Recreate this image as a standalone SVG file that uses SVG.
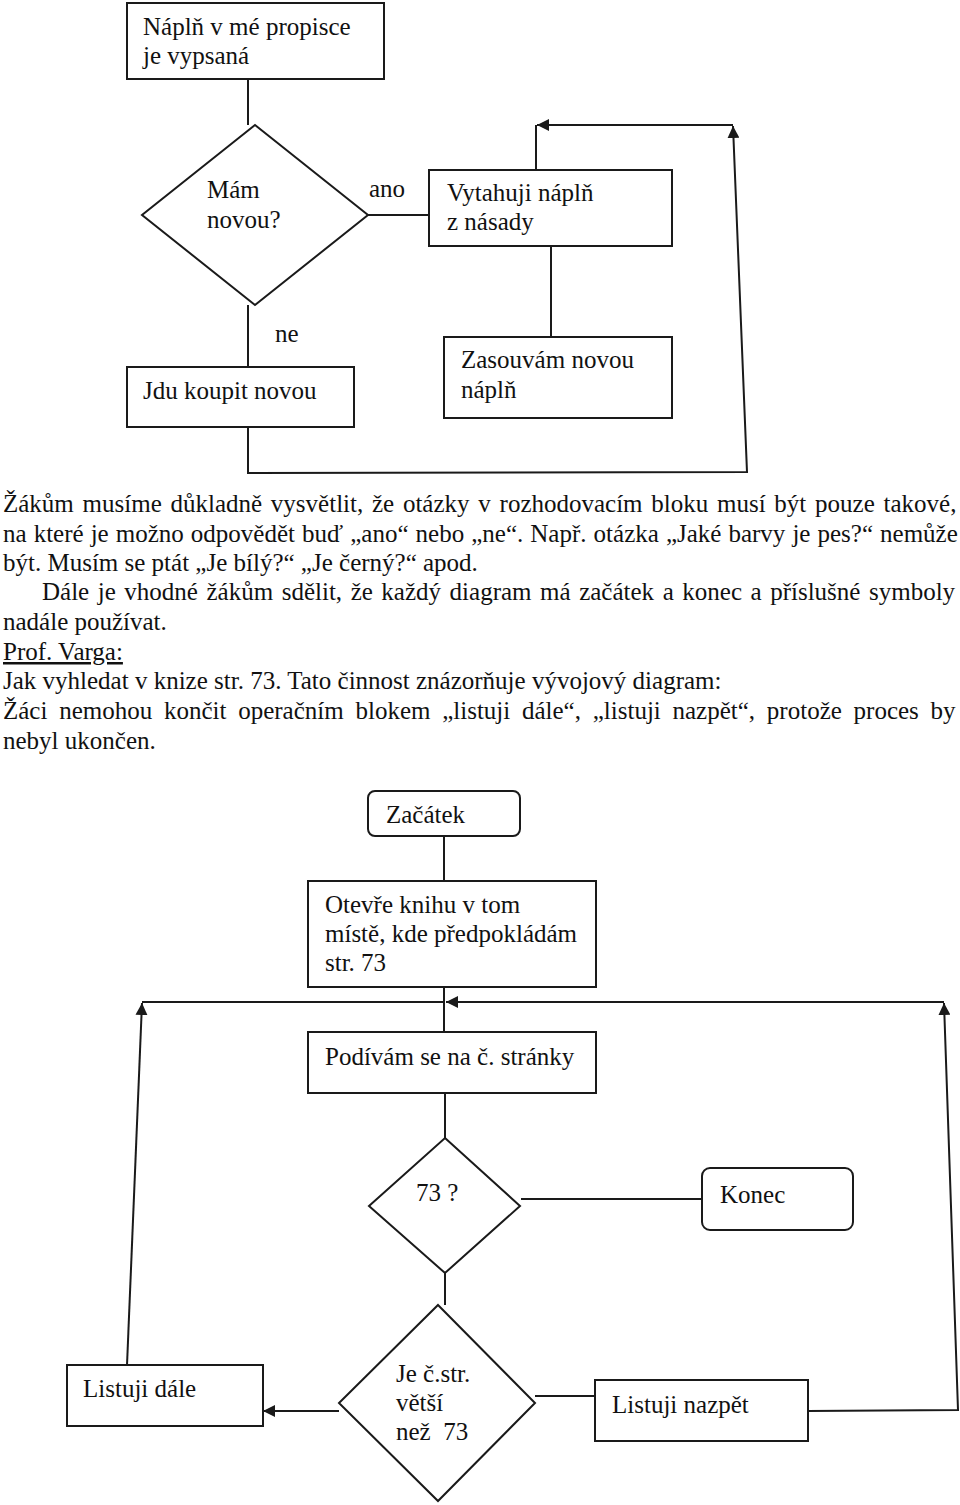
<svg xmlns="http://www.w3.org/2000/svg" width="960" height="1505" viewBox="0 0 960 1505">
<style>
.box{fill:#fff;stroke:#1a1a1a;stroke-width:2}
.ln{fill:none;stroke:#1a1a1a;stroke-width:2}
.t{font-family:"Liberation Serif","Times New Roman",serif;font-size:25px;fill:#111}
.p{font-family:"Liberation Serif","Times New Roman",serif;font-size:25px;fill:#111}
</style>
<defs>
<marker id="ah" markerUnits="userSpaceOnUse" markerWidth="12" markerHeight="12" viewBox="0 0 12 12" refX="12" refY="6" orient="auto">
<path d="M0,0 L12,6 L0,12 z" fill="#1a1a1a"/>
</marker>
</defs>
<rect width="960" height="1505" fill="#fff"/>

<g id="connectors">
<line class="ln" x1="248" y1="79" x2="248" y2="125"/>
<line class="ln" x1="368" y1="215" x2="429" y2="215"/>
<line class="ln" x1="551" y1="246" x2="551" y2="337"/>
<line class="ln" x1="536" y1="170" x2="536" y2="125"/>
<line class="ln" x1="248" y1="305" x2="248" y2="367"/>
<polyline class="ln" points="248,427 248,473 747,472 733,126" marker-end="url(#ah)"/>
<line class="ln" x1="733" y1="125" x2="537" y2="125" marker-end="url(#ah)"/>

<line class="ln" x1="444" y1="836" x2="444" y2="881"/>
<line class="ln" x1="444" y1="987" x2="444" y2="1032"/>
<line class="ln" x1="142" y1="1002" x2="444" y2="1002"/>
<line class="ln" x1="944" y1="1002" x2="446" y2="1002" marker-end="url(#ah)"/>
<line class="ln" x1="127" y1="1365" x2="142" y2="1003" marker-end="url(#ah)"/>
<polyline class="ln" points="808,1411 958,1410 944,1003" marker-end="url(#ah)"/>
<line class="ln" x1="445" y1="1093" x2="445" y2="1138"/>
<line class="ln" x1="521" y1="1199" x2="702" y2="1199"/>
<line class="ln" x1="445" y1="1273" x2="445" y2="1305"/>
<line class="ln" x1="535" y1="1396" x2="595" y2="1396"/>
<line class="ln" x1="339" y1="1411" x2="263" y2="1411" marker-end="url(#ah)"/>
</g>

<g id="n-naplne">
<rect class="box" x="127" y="3" width="257" height="76"/>
<text class="t" x="143" y="35">Náplň v mé propisce</text>
<text class="t" x="143" y="64">je vypsaná</text>
</g>
<g id="n-mam">
<polygon class="box" points="255,125 368,215 255,305 142,215"/>
<text class="t" x="207" y="198">Mám</text>
<text class="t" x="207" y="228">novou?</text>
</g>
<g id="lbl-ano"><text class="t" x="369" y="197">ano</text></g>
<g id="lbl-ne"><text class="t" x="275" y="342">ne</text></g>
<g id="n-vytahuji">
<rect class="box" x="429" y="170" width="243" height="76"/>
<text class="t" x="447" y="201">Vytahuji náplň</text>
<text class="t" x="447" y="230">z násady</text>
</g>
<g id="n-jdu">
<rect class="box" x="127" y="367" width="227" height="60"/>
<text class="t" x="143" y="399">Jdu koupit novou</text>
</g>
<g id="n-zasouvam">
<rect class="box" x="444" y="337" width="228" height="81"/>
<text class="t" x="461" y="368">Zasouvám novou</text>
<text class="t" x="461" y="398">náplň</text>
</g>

<g id="text-body">
<text class="p" x="3" y="512" word-spacing="2.5">Žákům musíme důkladně vysvětlit, že otázky v rozhodovacím bloku musí být pouze takové,</text>
<text class="p" x="3" y="542" word-spacing="0.8">na které je možno odpovědět buď „ano“ nebo „ne“. Např. otázka „Jaké barvy je pes?“ nemůže</text>
<text class="p" x="3" y="571">být. Musím se ptát „Je bílý?“ „Je černý?“ apod.</text>
<text class="p" x="42" y="600" word-spacing="2.3">Dále je vhodné žákům sdělit, že každý diagram má začátek a konec a příslušné symboly</text>
<text class="p" x="3" y="630">nadále používat.</text>
<text class="p" x="3" y="660" text-decoration="underline">Prof. Varga:</text>
<text class="p" x="3" y="689">Jak vyhledat v knize str. 73. Tato činnost znázorňuje vývojový diagram:</text>
<text class="p" x="3" y="719" word-spacing="5.5">Žáci nemohou končit operačním blokem „listuji dále“, „listuji nazpět“, protože proces by</text>
<text class="p" x="3" y="749">nebyl ukončen.</text>
</g>

<g id="n-zacatek">
<rect class="box" x="368" y="791" width="152" height="45" rx="7"/>
<text class="t" x="386" y="823">Začátek</text>
</g>
<g id="n-otevre">
<rect class="box" x="308" y="881" width="288" height="106"/>
<text class="t" x="325" y="913">Otevře knihu v tom</text>
<text class="t" x="325" y="942">místě, kde předpokládám</text>
<text class="t" x="325" y="971">str. 73</text>
</g>
<g id="n-podivam">
<rect class="box" x="308" y="1032" width="288" height="61"/>
<text class="t" x="325" y="1065">Podívám se na č. stránky</text>
</g>
<g id="n-73">
<polygon class="box" points="445,1138 520,1206 445,1273 369,1206"/>
<text class="t" x="416" y="1201">73 ?</text>
</g>
<g id="n-konec">
<rect class="box" x="702" y="1168" width="151" height="62" rx="8"/>
<text class="t" x="720" y="1203">Konec</text>
</g>
<g id="n-vetsi">
<polygon class="box" points="438,1305 535,1403 438,1501 339,1403"/>
<text class="t" x="396" y="1382">Je č.str.</text>
<text class="t" x="396" y="1411">větší</text>
<text class="t" x="396" y="1440" xml:space="preserve">než  73</text>
</g>
<g id="n-dale">
<rect class="box" x="67" y="1365" width="196" height="61"/>
<text class="t" x="83" y="1397">Listuji dále</text>
</g>
<g id="n-nazpet">
<rect class="box" x="595" y="1380" width="213" height="61"/>
<text class="t" x="612" y="1413">Listuji nazpět</text>
</g>
</svg>
